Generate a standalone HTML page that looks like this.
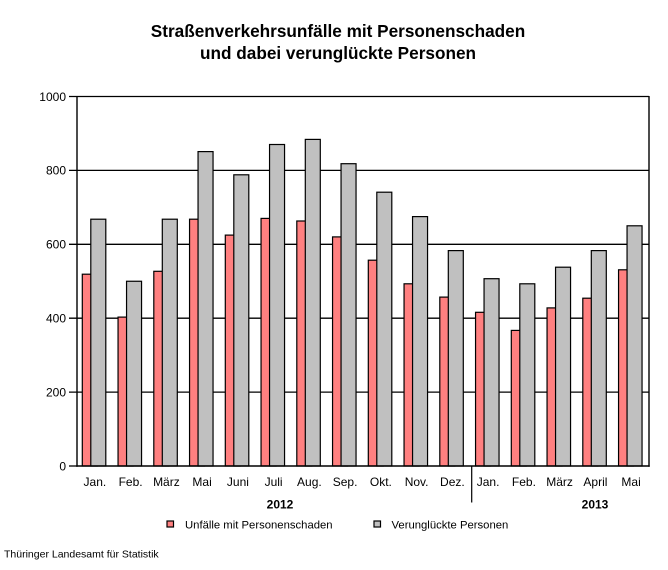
<!DOCTYPE html>
<html><head><meta charset="utf-8"><style>
html,body{margin:0;padding:0;background:#fff;}
svg{display:block;font-family:"Liberation Sans",Arial,sans-serif;}
</style></head><body>
<svg width="668" height="570" viewBox="0 0 668 570" xmlns="http://www.w3.org/2000/svg">
<rect x="0" y="0" width="668" height="570" fill="#fff"/>
<text x="338" y="37" font-size="17.2" font-weight="bold" text-anchor="middle" fill="#000">Straßenverkehrsunfälle mit Personenschaden</text>
<text x="338" y="59" font-size="17.2" font-weight="bold" text-anchor="middle" fill="#000">und dabei verunglückte Personen</text>
<g stroke="#000" stroke-width="1.3">
<line x1="69" y1="96.5" x2="649" y2="96.5"/>
<line x1="69" y1="170.4" x2="649" y2="170.4"/>
<line x1="69" y1="244.3" x2="649" y2="244.3"/>
<line x1="69" y1="318.2" x2="649" y2="318.2"/>
<line x1="69" y1="392.1" x2="649" y2="392.1"/>
<line x1="69" y1="466" x2="77" y2="466"/>
</g>
<g stroke="#000" stroke-width="1.2">
<rect x="82.3" y="274.2" width="15" height="191.8" fill="#FF8080"/>
<rect x="90.8" y="219.2" width="15" height="246.8" fill="#C0C0C0"/>
<rect x="118.05" y="317.1" width="15" height="148.9" fill="#FF8080"/>
<rect x="126.55" y="281.25" width="15" height="184.75" fill="#C0C0C0"/>
<rect x="153.8" y="271.3" width="15" height="194.7" fill="#FF8080"/>
<rect x="162.3" y="219.2" width="15" height="246.8" fill="#C0C0C0"/>
<rect x="189.55" y="219.2" width="15" height="246.8" fill="#FF8080"/>
<rect x="198.05" y="151.6" width="15" height="314.4" fill="#C0C0C0"/>
<rect x="225.3" y="235.1" width="15" height="230.9" fill="#FF8080"/>
<rect x="233.8" y="174.8" width="15" height="291.2" fill="#C0C0C0"/>
<rect x="261.05" y="218.4" width="15" height="247.6" fill="#FF8080"/>
<rect x="269.55" y="144.5" width="15" height="321.5" fill="#C0C0C0"/>
<rect x="296.8" y="221" width="15" height="245" fill="#FF8080"/>
<rect x="305.3" y="139.4" width="15" height="326.6" fill="#C0C0C0"/>
<rect x="332.55" y="236.9" width="15" height="229.1" fill="#FF8080"/>
<rect x="341.05" y="163.7" width="15" height="302.3" fill="#C0C0C0"/>
<rect x="368.3" y="260.2" width="15" height="205.8" fill="#FF8080"/>
<rect x="376.8" y="192.2" width="15" height="273.8" fill="#C0C0C0"/>
<rect x="404.05" y="283.8" width="15" height="182.2" fill="#FF8080"/>
<rect x="412.55" y="216.6" width="15" height="249.4" fill="#C0C0C0"/>
<rect x="439.8" y="297.1" width="15" height="168.9" fill="#FF8080"/>
<rect x="448.3" y="250.6" width="15" height="215.4" fill="#C0C0C0"/>
<rect x="475.55" y="312.3" width="15" height="153.7" fill="#FF8080"/>
<rect x="484.05" y="278.7" width="15" height="187.3" fill="#C0C0C0"/>
<rect x="511.3" y="330.4" width="15" height="135.6" fill="#FF8080"/>
<rect x="519.8" y="283.8" width="15" height="182.2" fill="#C0C0C0"/>
<rect x="547.05" y="307.9" width="15" height="158.1" fill="#FF8080"/>
<rect x="555.55" y="267.2" width="15" height="198.8" fill="#C0C0C0"/>
<rect x="582.8" y="298.2" width="15" height="167.8" fill="#FF8080"/>
<rect x="591.3" y="250.6" width="15" height="215.4" fill="#C0C0C0"/>
<rect x="618.55" y="269.8" width="15" height="196.2" fill="#FF8080"/>
<rect x="627.05" y="225.8" width="15" height="240.2" fill="#C0C0C0"/>
</g>
<g stroke="#000" stroke-width="1.4">
<line x1="77" y1="96" x2="77" y2="466.7"/>
<line x1="649" y1="96" x2="649" y2="466.7"/>
<line x1="76.3" y1="466" x2="649.7" y2="466"/>
<line x1="471.7" y1="466" x2="471.7" y2="502.5" stroke-width="1.2"/>
</g>
<g font-size="12" text-anchor="end" fill="#000">
<text x="66" y="100.8">1000</text>
<text x="66" y="174.7">800</text>
<text x="66" y="248.6">600</text>
<text x="66" y="322.5">400</text>
<text x="66" y="396.4">200</text>
<text x="66" y="470.3">0</text>
</g>
<g font-size="12" text-anchor="middle" fill="#000">
<text x="94.9" y="486">Jan.</text>
<text x="130.6" y="486">Feb.</text>
<text x="166.4" y="486">März</text>
<text x="202.1" y="486">Mai</text>
<text x="237.9" y="486">Juni</text>
<text x="273.6" y="486">Juli</text>
<text x="309.4" y="486">Aug.</text>
<text x="345.1" y="486">Sep.</text>
<text x="380.9" y="486">Okt.</text>
<text x="416.6" y="486">Nov.</text>
<text x="452.4" y="486">Dez.</text>
<text x="488.1" y="486">Jan.</text>
<text x="523.9" y="486">Feb.</text>
<text x="559.6" y="486">März</text>
<text x="595.4" y="486">April</text>
<text x="631.1" y="486">Mai</text>
<text x="280" y="508.5" font-weight="bold">2012</text>
<text x="595" y="508.5" font-weight="bold">2013</text>
</g>
<rect x="167" y="521" width="6.5" height="6" fill="#FF8080" stroke="#000" stroke-width="1.2"/>
<text x="185" y="528.5" font-size="11.3" fill="#000">Unfälle mit Personenschaden</text>
<rect x="374" y="521" width="6.5" height="6" fill="#C0C0C0" stroke="#000" stroke-width="1.2"/>
<text x="391.5" y="528.5" font-size="11.3" fill="#000">Verunglückte Personen</text>
<text x="4" y="557.5" font-size="10.5" fill="#000">Thüringer Landesamt für Statistik</text>
</svg>
</body></html>
